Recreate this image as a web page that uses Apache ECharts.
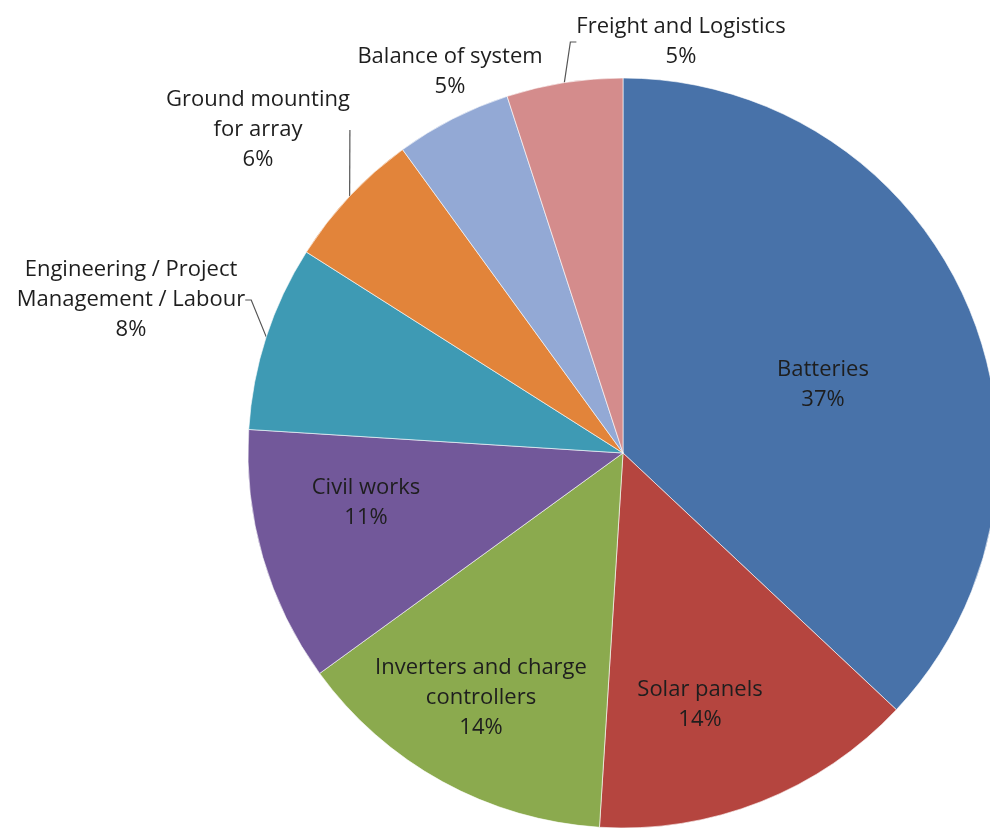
<!DOCTYPE html>
<html>
<head>
<meta charset="utf-8">
<style>
  html, body { margin: 0; padding: 0; background: #ffffff; }
  #chart { width: 990px; height: 832px; }
</style>
<script src="https://cdn.jsdelivr.net/npm/echarts@6/dist/echarts.min.js"></script>
</head>
<body>
<div id="chart"></div>
<script>
// Cost breakdown of a solar + battery system (share of total, %)
const categories = [
  'Batteries',
  'Solar panels',
  'Inverters and charge controllers',
  'Civil works',
  'Engineering / Project Management / Labour',
  'Ground mounting for array',
  'Balance of system',
  'Freight and Logistics'
];
const shares = [37, 14, 14, 11, 8, 6, 5, 5];

// Line breaks used when the category names are printed
const labelLines = [
  'Batteries',
  'Solar panels',
  'Inverters and charge\ncontrollers',
  'Civil works',
  'Engineering / Project\nManagement / Labour',
  'Ground mounting\nfor array',
  'Balance of system',
  'Freight and Logistics'
];

// Slices whose label sits outside the pie
const outsideLabels = [false, false, false, false, true, true, true, true];
// Slices whose outside label gets a leader line
const leaderLines = [false, false, false, false, true, true, false, true];

const sliceColors = ['#4872A9', '#B5453F', '#8BAA4E', '#72589A', '#3E9AB4', '#E2843A', '#93A9D5', '#D48C8C'];

// Where each label block is centred
const labelCenters = [
  [823, 385], [700, 705], [481, 698], [366, 503],
  [131, 300], [258, 130], [450, 72], [681, 42]
];

const chart = echarts.init(document.getElementById('chart'), null, { renderer: 'canvas' });

const data = categories.map((name, i) => ({
  name: name,
  value: shares[i],
  itemStyle: { color: sliceColors[i] },
  label: { position: outsideLabels[i] ? 'outside' : 'inside' },
  labelLine: { show: leaderLines[i] }
}));

chart.setOption({
  animation: false,
  backgroundColor: '#ffffff',
  series: [{
    type: 'pie',
    center: [623, 453],
    radius: [0, 375],
    startAngle: 90,
    clockwise: true,
    avoidLabelOverlap: false,
    silent: true,
    data: data,
    itemStyle: { borderColor: 'rgba(255,255,255,0.6)', borderWidth: 1 },
    label: {
      show: true,
      color: '#1e1e1e',
      fontFamily: 'Open Sans',
      fontSize: 22,
      lineHeight: 30,
      align: 'center',
      formatter: p => labelLines[p.dataIndex] + '\n' + p.value + '%'
    },
    labelLine: {
      show: true,
      length: 10,
      length2: 6,
      lineStyle: { color: '#555555', width: 1.2 }
    },
    labelLayout: function (params) {
      const c = labelCenters[params.dataIndex];
      return { x: c[0], y: c[1], align: 'center', verticalAlign: 'middle' };
    }
  }]
});
</script>
</body>
</html>
